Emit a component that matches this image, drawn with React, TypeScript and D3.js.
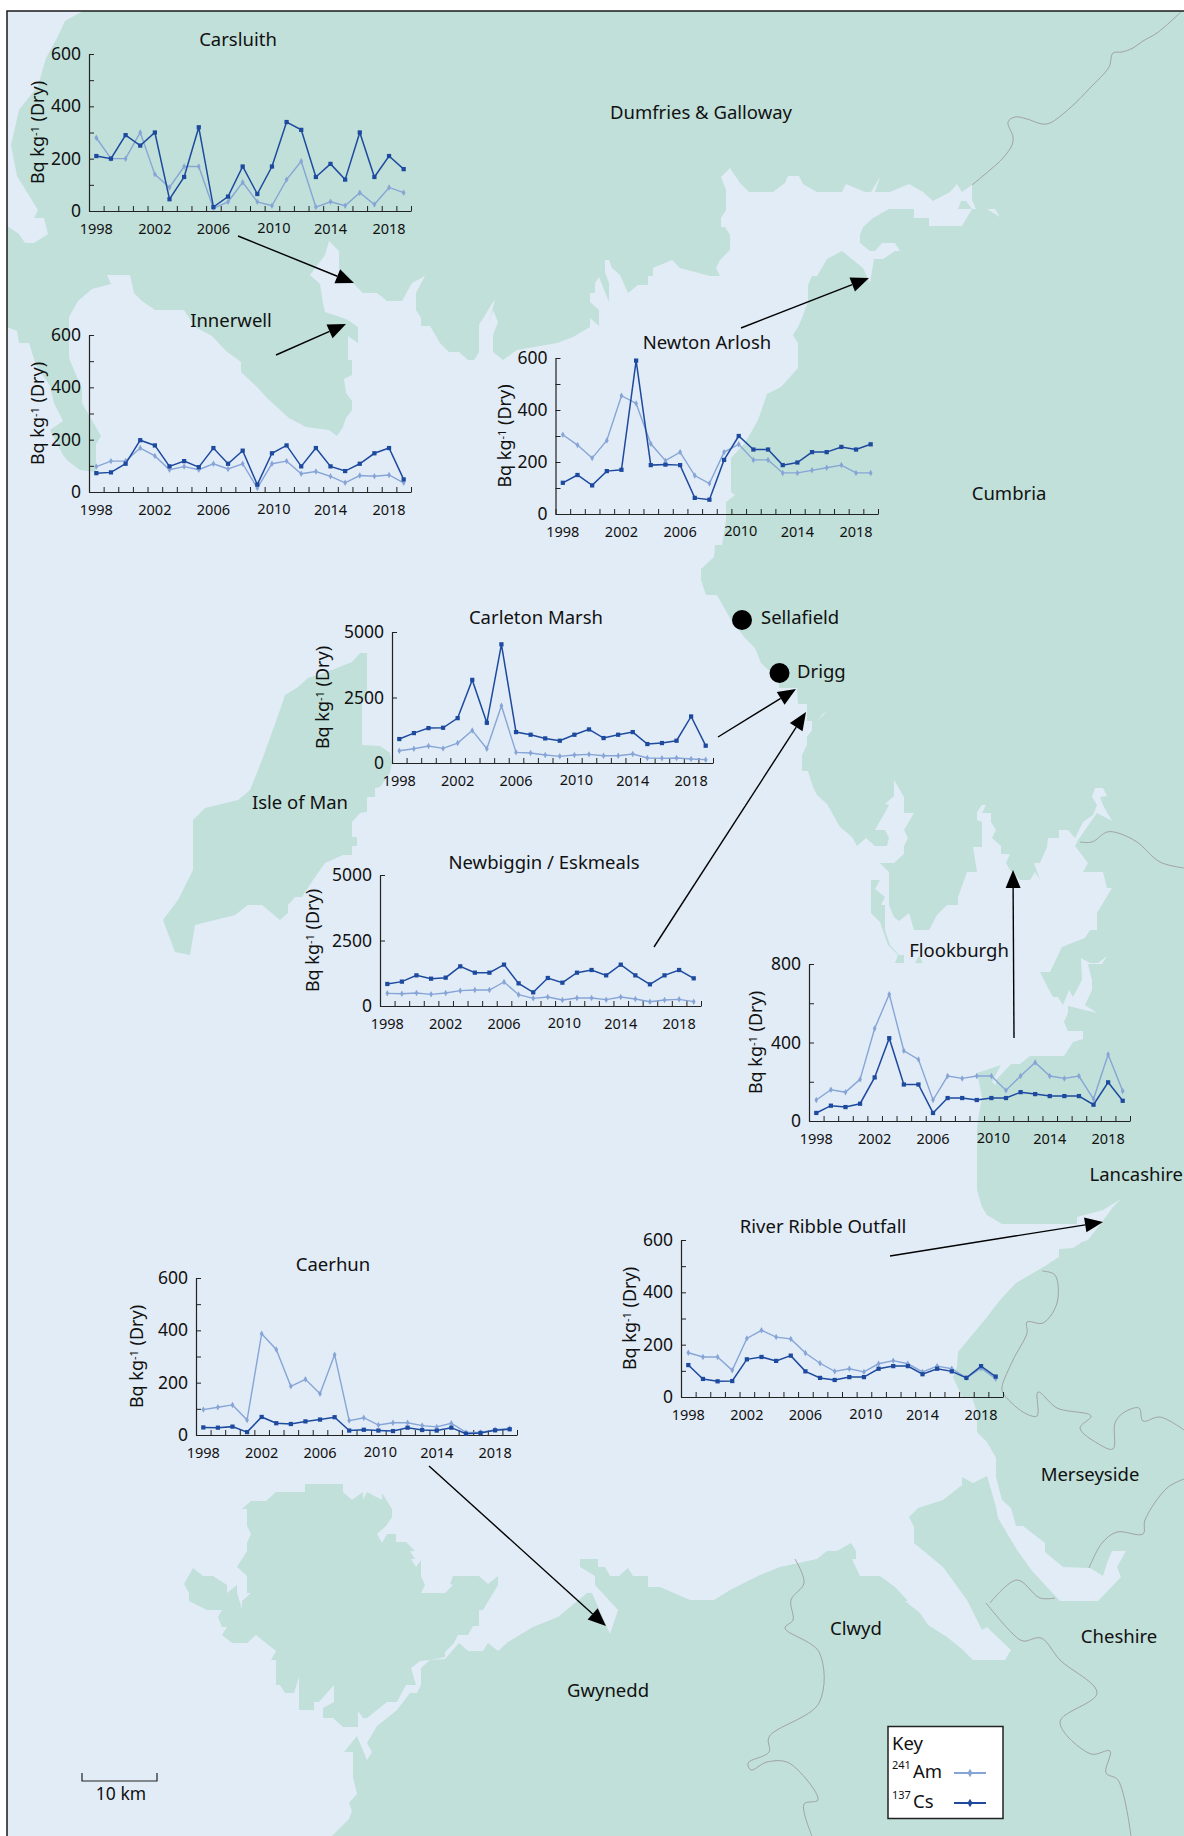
import React, { useEffect, useRef } from 'react';
import * as d3 from 'd3';

type Pt = [number, number];

const WIDTH = 1184;
const HEIGHT = 1836;
const FONT = '"Noto Sans", "Open Sans", sans-serif';
const SEA = '#e2ecf7';
const LAND = '#c0e0d9';
const AM_COLOR = '#86a5d6';
const CS_COLOR = '#1d4a9e';
const LABEL_SIZE = 18.5;

const years = d3.range(1998, 2020);
const labelYears = [1998, 2002, 2006, 2010, 2014, 2018];

// values, Bq/kg dry
const carsluithCs = [210, 200, 290, 250, 300, 45, 130, 320, 15, 55, 170, 65, 170, 340, 310, 130, 180, 120, 300, 130, 210, 160];
const carsluithAm = [280, 200, 200, 300, 140, 90, 170, 170, 10, 35, 110, 35, 20, 120, 190, 15, 35, 20, 70, 25, 90, 70];
const innerwellCs = [72, 75, 108, 198, 178, 98, 118, 95, 168, 108, 158, 28, 148, 178, 98, 168, 98, 80, 108, 148, 168, 48];
const innerwellAm = [97, 118, 118, 168, 138, 85, 97, 85, 108, 88, 108, 15, 108, 118, 70, 78, 60, 35, 63, 60, 65, 35];
const newtonCs = [120, 150, 110, 165, 170, 590, 188, 190, 188, 62, 55, 208, 300, 248, 248, 188, 198, 238, 238, 258, 248, 268];
const newtonAm = [305, 265, 215, 283, 455, 425, 270, 205, 238, 148, 117, 238, 268, 208, 208, 158, 158, 168, 178, 188, 158, 158];
const carletonCs = [914, 1142, 1332, 1345, 1713, 3172, 1535, 4530, 1180, 1079, 939, 850, 1079, 1282, 952, 1079, 1180, 723, 761, 850, 1777, 660];
const carletonAm = [470, 545, 647, 558, 760, 1244, 545, 2183, 406, 380, 305, 254, 305, 330, 279, 279, 343, 190, 178, 190, 152, 127];
const newbigginCs = [840, 930, 1170, 1043, 1081, 1514, 1272, 1272, 1578, 865, 522, 1069, 890, 1272, 1374, 1170, 1578, 1170, 827, 1170, 1374, 1056];
const newbigginAm = [483, 470, 496, 445, 496, 585, 610, 610, 916, 432, 293, 343, 229, 305, 305, 242, 343, 267, 165, 229, 254, 165];
const flookburghCs = [41, 78, 71, 88, 222, 422, 186, 186, 41, 117, 117, 107, 117, 117, 147, 137, 127, 127, 127, 83, 197, 103];
const flookburghAm = [107, 159, 147, 212, 471, 646, 358, 314, 107, 229, 217, 229, 229, 156, 229, 298, 229, 217, 229, 112, 339, 153];
const ribbleCs = [122, 69, 60, 61, 144, 153, 138, 158, 98, 73, 65, 76, 76, 108, 118, 118, 87, 108, 98, 73, 118, 78];
const ribbleAm = [169, 153, 153, 102, 224, 255, 229, 222, 168, 129, 98, 108, 96, 127, 139, 127, 96, 118, 108, 73, 110, 70];
const caerhunCs = [29, 28, 32, 11, 69, 45, 42, 52, 59, 68, 17, 20, 17, 15, 28, 19, 17, 28, 5, 8, 18, 22];
const caerhunAm = [97, 106, 115, 57, 387, 327, 186, 213, 158, 307, 55, 66, 38, 47, 47, 36, 31, 45, 10, 10, 20, 25];

const charts = [
  { title: 'Carsluith', titleX: 238, titleY: 46, cs: carsluithCs, am: carsluithAm, max: 600, minor: 100, major: 200, x0: 89, x1: 411, yTop: 54, yBase: 211, labelGap: 45 },
  { title: 'Innerwell', titleX: 231, titleY: 327, cs: innerwellCs, am: innerwellAm, max: 600, minor: 100, major: 200, x0: 89, x1: 411, yTop: 335, yBase: 492, labelGap: 45 },
  { title: 'Newton Arlosh', titleX: 707, titleY: 349, cs: newtonCs, am: newtonAm, max: 600, minor: 100, major: 200, x0: 555.5, x1: 878, yTop: 358, yBase: 514, labelGap: 45 },
  { title: 'Carleton Marsh', titleX: 536, titleY: 624, cs: carletonCs, am: carletonAm, max: 5000, minor: 2500, major: 2500, x0: 392, x1: 713, yTop: 632, yBase: 763, labelGap: 63 },
  { title: 'Newbiggin / Eskmeals', titleX: 544, titleY: 869, cs: newbigginCs, am: newbigginAm, max: 5000, minor: 2500, major: 2500, x0: 380, x1: 701, yTop: 875, yBase: 1006, labelGap: 61 },
  { title: 'Flookburgh', titleX: 959, titleY: 957, cs: flookburghCs, am: flookburghAm, max: 800, minor: 200, major: 400, x0: 809, x1: 1130, yTop: 964, yBase: 1121, labelGap: 47 },
  { title: 'River Ribble Outfall', titleX: 823, titleY: 1233, cs: ribbleCs, am: ribbleAm, max: 600, minor: 100, major: 200, x0: 681, x1: 1003, yTop: 1240, yBase: 1397, labelGap: 45 },
  { title: 'Caerhun', titleX: 333, titleY: 1271, cs: caerhunCs, am: caerhunAm, max: 600, minor: 100, major: 200, x0: 196, x1: 517, yTop: 1278, yBase: 1435, labelGap: 53 },
];

// coast traced clockwise from the top left round to the Welsh coast
const mainland: Pt[] = [
  [83, 11], [65, 21], [57, 38], [46, 58], [38, 86], [19, 110], [11, 145], [17, 176], [38, 210], [34, 218], [44, 218], [48, 234], [34, 243], [25, 243], [19, 234], [7, 226],
  [7, 327], [17, 331], [19, 343], [29, 343], [36, 365], [50, 386], [54, 403], [63, 421], [50, 430], [63, 455], [68, 461], [80, 470], [96, 472],
  [96, 444], [101, 436], [82, 403], [82, 389], [69, 358], [69, 317], [78, 301], [92, 289], [111, 284], [107, 275], [130, 275], [134, 293], [142, 301], [155, 310], [184, 310],
  [195, 327], [212, 336], [226, 351], [241, 362], [241, 372], [256, 386], [268, 399], [289, 418], [306, 427], [329, 430], [337, 436], [343, 427], [346, 418], [352, 410], [352, 401],
  [346, 393], [344, 379], [352, 375], [352, 360], [348, 360], [348, 336], [358, 343], [358, 327], [346, 319], [325, 312], [323, 303], [320, 284], [310, 275], [325, 255], [329, 241],
  [339, 251], [339, 269], [346, 275], [353, 283], [363, 293], [377, 293], [387, 301], [402, 301], [412, 283], [425, 276], [416, 293], [416, 310], [421, 318], [421, 326], [430, 326],
  [440, 343], [449, 352], [459, 352], [463, 343], [459, 352], [468, 360], [474, 360], [479, 352], [479, 325], [493, 302], [502, 293], [497, 293], [488, 325], [493, 310], [498, 322],
  [493, 335], [493, 352], [503, 360], [517, 350], [557, 343], [573, 337], [590, 327], [590, 318], [599, 326], [599, 310], [590, 302], [590, 293], [595, 293], [595, 283], [599, 277],
  [609, 302], [609, 283], [605, 272], [605, 260], [609, 260], [612, 268], [620, 275], [628, 293], [638, 285], [648, 285], [648, 276], [653, 276], [653, 268], [672, 260], [680, 268],
  [710, 276], [720, 276], [716, 268], [720, 260], [730, 250], [730, 235], [725, 227], [721, 227], [721, 218], [726, 210], [726, 190], [721, 177], [730, 168], [740, 183], [749, 192],
  [773, 192], [785, 183], [788, 176], [799, 176], [803, 184], [817, 192], [842, 192], [846, 184], [865, 192], [871, 192], [880, 177], [875, 192], [890, 192], [909, 184], [923, 192],
  [933, 201], [950, 192], [957, 184], [962, 192], [972, 185], [972, 200], [976, 209], [972, 209], [962, 226], [929, 226], [929, 218], [914, 218], [914, 209], [889, 209], [873, 218],
  [863, 227], [860, 235], [860, 243], [870, 251], [875, 251], [882, 243], [895, 243], [900, 251], [914, 251], [918, 243], [900, 251], [895, 251], [883, 259], [874, 259], [870, 283],
  [863, 268], [842, 251], [827, 259], [817, 276], [812, 276], [808, 285], [808, 302], [802, 318], [798, 327], [793, 335], [798, 343], [798, 368], [781, 387], [767, 394], [758, 420],
  [745, 443], [731, 458], [731, 492], [735, 495], [726, 502], [726, 520], [722, 545], [715, 545], [714, 557], [701, 569], [701, 580], [706, 595], [717, 595], [731, 620], [745, 638],
  [755, 648], [761, 663], [779, 680], [779, 688], [797, 688], [798, 704], [807, 704], [807, 721], [812, 721], [812, 730], [807, 737], [807, 745], [802, 755], [802, 771], [808, 771],
  [813, 787], [817, 795], [827, 804], [840, 827], [852, 837], [857, 846], [866, 838], [875, 846], [887, 846], [889, 838], [885, 830], [875, 830], [889, 805], [885, 804], [894, 796],
  [894, 780], [904, 797], [904, 813], [914, 813], [904, 830], [908, 838], [904, 846], [904, 854], [894, 863], [880, 863], [889, 872], [889, 905], [894, 917], [899, 921], [909, 913],
  [914, 930], [929, 930], [937, 915], [947, 905], [958, 905], [958, 897], [967, 872], [977, 872], [973, 847], [982, 847], [982, 822], [977, 820], [977, 812], [982, 805], [986, 805],
  [982, 813], [991, 813], [991, 822], [996, 830], [992, 838], [1001, 846], [1001, 854], [1010, 854], [1006, 863], [1010, 870], [1020, 880], [1030, 880], [1035, 872], [1040, 880],
  [1034, 863], [1040, 863], [1047, 847], [1048, 838], [1059, 838], [1059, 830], [1068, 830], [1075, 838], [1083, 822], [1093, 815], [1097, 805], [1092, 797], [1095, 788], [1103, 788],
  [1107, 796], [1100, 797], [1103, 805], [1112, 821], [1097, 813], [1085, 830], [1078, 840], [1075, 846], [1088, 863], [1083, 872], [1103, 872], [1107, 888], [1112, 888], [1097, 913],
  [1097, 930], [1090, 930], [1085, 938], [1072, 943], [1062, 947], [1050, 972], [1040, 972], [1048, 988], [1053, 997], [1058, 997], [1063, 1005], [1069, 990], [1073, 997], [1082, 980],
  [1081, 958], [1090, 963], [1098, 963], [1107, 956], [1102, 964], [1088, 964], [1092, 980], [1092, 990], [1085, 1005], [1097, 1013], [1068, 1006], [1068, 1013], [1064, 1022], [1068, 1031],
  [1083, 1031], [1083, 1039], [1073, 1042], [1064, 1056], [1030, 1056], [1020, 1064], [1011, 1064], [996, 1080], [996, 1088], [1001, 1090], [992, 1082], [1001, 1065], [977, 1073],
  [982, 1097], [978, 1120], [977, 1130], [977, 1190], [982, 1207], [987, 1215], [1002, 1224], [1077, 1224], [1077, 1217], [1103, 1210], [1121, 1199], [1113, 1207], [1102, 1222], [1088, 1240],
  [1082, 1242], [1073, 1248], [1059, 1249], [1059, 1257], [1045, 1266], [1016, 1283], [1000, 1300], [987, 1317], [958, 1352], [957, 1367], [953, 1377], [962, 1397], [972, 1397], [977, 1413],
  [977, 1432], [987, 1442], [996, 1458], [996, 1477], [1002, 1500], [1011, 1508], [1016, 1526], [1023, 1526], [1045, 1543], [1045, 1552], [1063, 1567], [1090, 1568], [1103, 1576], [1107, 1563],
  [1112, 1551], [1126, 1551], [1117, 1567], [1121, 1577], [1098, 1601], [1060, 1601], [1033, 1572], [1017, 1550], [998, 1518], [996, 1507], [987, 1476], [973, 1483], [962, 1477], [962, 1485],
  [943, 1500], [918, 1508], [909, 1517], [914, 1527], [914, 1543], [943, 1567], [967, 1600], [982, 1630], [987, 1627], [993, 1633], [1011, 1650], [1005, 1660], [973, 1660], [963, 1650],
  [947, 1637], [928, 1625], [920, 1613], [905, 1601], [908, 1601], [895, 1587], [880, 1576], [860, 1576], [852, 1559], [856, 1559], [856, 1551], [851, 1543], [837, 1551], [827, 1551], [817, 1559],
  [780, 1567], [760, 1575], [730, 1590], [714, 1600], [690, 1600], [660, 1587], [648, 1587], [648, 1576], [633, 1576], [628, 1568], [619, 1576], [610, 1576], [605, 1567], [598, 1567], [598, 1559],
  [580, 1559], [580, 1567], [595, 1576], [595, 1585], [618, 1610], [613, 1625], [610, 1634], [606, 1625], [592, 1593], [587, 1593], [558, 1617], [533, 1627], [508, 1642], [498, 1651], [488, 1643],
  [483, 1651], [468, 1651], [459, 1643], [445, 1659], [430, 1660], [421, 1668], [421, 1685], [417, 1693], [410, 1693], [397, 1710], [377, 1726], [367, 1743], [372, 1752], [367, 1760], [357, 1736],
  [344, 1752], [353, 1752], [353, 1777], [357, 1794], [349, 1803], [352, 1811], [349, 1819], [332, 1836], [1184, 1836], [1184, 11],
];

const anglesey: Pt[] = [
  [305, 1484], [343, 1484], [343, 1492], [352, 1500], [363, 1492], [363, 1500], [367, 1492], [382, 1500], [382, 1493], [392, 1509], [392, 1517], [386, 1526], [377, 1534], [382, 1543], [387, 1534],
  [396, 1534], [396, 1542], [406, 1542], [415, 1551], [410, 1551], [415, 1559], [411, 1559], [416, 1567], [421, 1560], [421, 1576], [425, 1585], [421, 1593], [445, 1593], [453, 1585], [450, 1584],
  [453, 1576], [479, 1576], [488, 1584], [498, 1576], [498, 1585], [483, 1610], [479, 1610], [479, 1626], [473, 1626], [468, 1635], [458, 1635], [454, 1643], [445, 1652], [445, 1657], [430, 1660],
  [420, 1661], [411, 1668], [416, 1685], [406, 1685], [397, 1702], [387, 1702], [367, 1718], [363, 1718], [358, 1711], [358, 1727], [343, 1727], [333, 1718], [323, 1718], [323, 1708], [334, 1702],
  [334, 1685], [319, 1702], [314, 1702], [314, 1710], [299, 1710], [299, 1677], [294, 1693], [285, 1693], [280, 1685], [276, 1685], [276, 1660], [271, 1660], [276, 1651], [256, 1635], [247, 1643],
  [232, 1643], [222, 1635], [227, 1627], [222, 1627], [218, 1617], [222, 1610], [207, 1610], [189, 1601], [189, 1593], [184, 1584], [193, 1568], [203, 1576], [213, 1576], [227, 1585], [227, 1593],
  [237, 1585], [237, 1593], [242, 1609], [242, 1601], [251, 1593], [247, 1593], [247, 1576], [237, 1567], [247, 1551], [247, 1543], [251, 1534], [247, 1526], [247, 1509], [242, 1509], [251, 1501],
  [266, 1501], [276, 1492], [305, 1492],
];

const isleOfMan: Pt[] = [
  [367, 653], [367, 697], [362, 700], [362, 745], [380, 746], [390, 753], [392, 763], [390, 773], [380, 787], [375, 788], [375, 797], [367, 797], [367, 812], [360, 813], [352, 822], [352, 837],
  [357, 837], [357, 846], [352, 846], [352, 855], [343, 855], [325, 863], [313, 880], [302, 897], [295, 897], [288, 905], [288, 913], [280, 920], [262, 905], [248, 905], [235, 915], [195, 925],
  [190, 955], [175, 952], [163, 920], [178, 900], [193, 870], [193, 820], [205, 808], [238, 800], [250, 790], [262, 760], [280, 710], [285, 695], [298, 687], [308, 678], [327, 672], [352, 662], [360, 653],
];

const walneyIsland: Pt[] = [
  [871, 880], [880, 880], [875, 889], [885, 897], [881, 905], [885, 905], [885, 930], [890, 945], [899, 955], [904, 955], [904, 963], [895, 963], [898, 955], [888, 945], [880, 922], [871, 913],
];
const smallLand: Pt[][] = [
  [[915, 963], [923, 963], [919, 956]],
  [[958, 209], [972, 209], [966, 201], [961, 201]],
];
const seaSlivers: Pt[][] = [
  [[817, 721], [823, 714], [827, 712]],
  [[987, 209], [995, 209], [1000, 217]],
];

const boundaries: Pt[][] = [
  [[972, 185], [990, 170], [1003, 158], [1012, 145], [1013, 137], [1008, 122], [1015, 117], [1027, 119], [1042, 124], [1050, 123], [1070, 108], [1090, 88], [1109, 67], [1113, 53], [1122, 52], [1133, 48], [1143, 41], [1157, 33], [1181, 12]],
  [[1080, 842], [1092, 842], [1107, 832], [1118, 833], [1137, 842], [1160, 862], [1184, 868]],
  [[1042, 1271], [1055, 1275], [1057, 1303], [1043, 1323], [1027, 1322], [1027, 1333], [1013, 1360], [1002, 1387], [1003, 1393], [1023, 1412], [1037, 1416], [1038, 1392], [1057, 1408], [1091, 1416], [1080, 1428], [1097, 1443], [1113, 1449], [1115, 1423], [1123, 1413], [1139, 1408], [1143, 1421], [1160, 1417], [1184, 1430]],
  [[1089, 1568], [1102, 1543], [1117, 1532], [1143, 1534], [1145, 1520], [1167, 1488], [1184, 1479]],
  [[1055, 1598], [1040, 1598], [1017, 1580], [990, 1603]],
  [[986, 1603], [1012, 1633], [1023, 1641], [1041, 1638], [1060, 1660], [1097, 1693], [1060, 1722], [1091, 1754], [1110, 1751], [1106, 1773], [1118, 1780], [1131, 1836]],
  [[795, 1559], [804, 1583], [791, 1600], [793, 1620], [785, 1628], [819, 1652], [819, 1703], [769, 1737], [769, 1752], [748, 1763], [751, 1770], [767, 1762], [789, 1763], [818, 1800], [804, 1804], [812, 1836]],
];

// line start, arrow tip
const arrows: [Pt, Pt][] = [
  [[238, 236], [354, 283]],
  [[276, 355], [346, 324]],
  [[741, 328], [869, 278]],
  [[718, 737], [796, 689]],
  [[654, 947], [806, 712]],
  [[1014, 1038], [1013, 870]],
  [[890, 1256], [1103, 1222]],
  [[429, 1466], [606, 1626]],
];

const placeLabels = [
  { text: 'Dumfries & Galloway', x: 701, y: 119, anchor: 'middle' },
  { text: 'Cumbria', x: 1009, y: 500, anchor: 'middle' },
  { text: 'Sellafield', x: 761, y: 624, anchor: 'start' },
  { text: 'Drigg', x: 797, y: 678, anchor: 'start' },
  { text: 'Isle of Man', x: 300, y: 809, anchor: 'middle' },
  { text: 'Lancashire', x: 1183, y: 1181, anchor: 'end' },
  { text: 'Merseyside', x: 1090, y: 1481, anchor: 'middle' },
  { text: 'Clwyd', x: 856, y: 1635, anchor: 'middle' },
  { text: 'Cheshire', x: 1119, y: 1643, anchor: 'middle' },
  { text: 'Gwynedd', x: 608, y: 1697, anchor: 'middle' },
];

const sites: Pt[] = [[742, 620], [779.5, 673]];

const App = () => {
  const svgRef = useRef<SVGSVGElement | null>(null);

  useEffect(() => {
    const svg = d3.select(svgRef.current);
    svg.selectAll('*').remove();
    svg.style('font-family', FONT);

    const outline = d3.line<Pt>().curve(d3.curveLinearClosed);
    const open = d3.line<Pt>().curve(d3.curveLinear);
    const smooth = d3.line<Pt>().curve(d3.curveCatmullRom.alpha(0.5));

    // map
    svg.append('rect').attr('x', 7).attr('y', 11).attr('width', WIDTH - 7).attr('height', HEIGHT - 11).attr('fill', SEA);
    const landShapes = [mainland, anglesey, isleOfMan, walneyIsland, ...smallLand];
    svg.append('g').selectAll('path').data(landShapes).join('path').attr('d', (d) => outline(d)).attr('fill', LAND);
    svg.append('g').selectAll('path').data(seaSlivers).join('path').attr('d', (d) => outline(d)).attr('fill', SEA);
    svg.append('g').selectAll('path').data(boundaries).join('path')
      .attr('d', (d) => smooth(d)).attr('fill', 'none').attr('stroke', '#a3a3a3').attr('stroke-width', 1);

    // frame
    svg.append('path').attr('d', open([[7, HEIGHT], [7, 11], [WIDTH, 11]])).attr('fill', 'none').attr('stroke', '#1a1a1a').attr('stroke-width', 1.5);

    // small charts
    charts.forEach((c) => {
      const g = svg.append('g');
      const band = d3.scaleBand<number>().domain(years).range([c.x0, c.x1]);
      const edges = d3.scaleLinear().domain([0, years.length]).range([c.x0, c.x1]);
      const y = d3.scaleLinear().domain([0, c.max]).range([c.yBase, c.yTop]);
      const xPos = (i: number) => (band(years[i]) as number) + band.bandwidth() / 2;

      const styleAxis = (sel: any) => {
        sel.selectAll('.domain').attr('stroke', '#222').attr('stroke-width', 1.2);
        sel.selectAll('line').attr('stroke', '#222').attr('stroke-width', 1);
      };

      const tickAxis = g.append('g').attr('transform', `translate(0,${c.yBase})`)
        .call(d3.axisBottom(edges).tickValues(d3.range(0, years.length + 1)).tickSize(-5).tickSizeOuter(0).tickFormat(() => ''));
      styleAxis(tickAxis);

      const labelAxis = g.append('g').attr('transform', `translate(0,${c.yBase})`)
        .call(d3.axisBottom(band).tickValues(labelYears).tickSize(0).tickPadding(13).tickFormat((d) => String(d)));
      labelAxis.select('.domain').remove();
      labelAxis.selectAll('text').attr('font-size', 14.5).attr('font-family', FONT).attr('fill', '#111')
        .attr('dx', (d: any) => (d === 2010 ? 2 : 0)).attr('dy', (d: any) => (d === 2010 ? '0.64em' : '0.71em'));

      const yAxis = g.append('g').attr('transform', `translate(${c.x0},0)`)
        .call(d3.axisLeft(y).tickValues(d3.range(0, c.max + 1, c.minor)).tickSizeInner(-5).tickSizeOuter(0).tickPadding(8)
          .tickFormat((d: any) => (d % c.major === 0 ? String(d) : '')));
      styleAxis(yAxis);
      yAxis.selectAll('text').attr('font-size', 17.5).attr('font-family', FONT).attr('fill', '#111');

      const label = g.append('text')
        .attr('transform', `translate(${c.x0 - c.labelGap},${(c.yTop + c.yBase) / 2}) rotate(-90)`)
        .attr('text-anchor', 'middle').attr('font-size', 18).attr('fill', '#111');
      label.append('tspan').text('Bq kg');
      label.append('tspan').attr('dy', -5).attr('font-size', 11).text('-1');
      label.append('tspan').attr('dy', 5).text(' (Dry)');

      g.append('text').attr('x', c.titleX).attr('y', c.titleY).attr('text-anchor', 'middle').attr('font-size', LABEL_SIZE).attr('fill', '#111').text(c.title);

      const series = [
        { values: c.am, color: AM_COLOR, width: 1.4, symbol: d3.symbolDiamond, size: 12 },
        { values: c.cs, color: CS_COLOR, width: 1.5, symbol: d3.symbolSquare, size: 18 },
      ];
      series.forEach((s) => {
        const line = d3.line<number>().x((_, i) => xPos(i)).y((d) => y(d));
        g.append('path').attr('d', line(s.values)).attr('fill', 'none').attr('stroke', s.color).attr('stroke-width', s.width);
        g.append('g').selectAll('path').data(s.values).join('path')
          .attr('transform', (d, i) => `translate(${xPos(i)},${y(d)})`)
          .attr('d', d3.symbol().type(s.symbol).size(s.size)())
          .attr('fill', s.color);
      });
    });

    // arrows pointing at the sampling sites
    const HEAD_LEN = 18;
    const HEAD_W = 15;
    arrows.forEach(([from, tip]) => {
      const a = Math.atan2(tip[1] - from[1], tip[0] - from[0]);
      const bx = tip[0] - HEAD_LEN * Math.cos(a);
      const by = tip[1] - HEAD_LEN * Math.sin(a);
      const nx = -Math.sin(a) * HEAD_W / 2;
      const ny = Math.cos(a) * HEAD_W / 2;
      svg.append('path').attr('d', open([from, [bx, by]])).attr('stroke', '#000').attr('stroke-width', 1.4).attr('fill', 'none');
      svg.append('path').attr('d', outline([tip, [bx + nx, by + ny], [bx - nx, by - ny]])).attr('fill', '#000');
    });

    // place names and site dots
    svg.append('g').selectAll('text').data(placeLabels).join('text')
      .attr('x', (d) => d.x).attr('y', (d) => d.y).attr('text-anchor', (d) => d.anchor)
      .attr('font-size', LABEL_SIZE).attr('fill', '#111').text((d) => d.text);
    svg.append('g').selectAll('circle').data(sites).join('circle')
      .attr('cx', (d) => d[0]).attr('cy', (d) => d[1]).attr('r', 10).attr('fill', '#000');

    // scale bar
    svg.append('path').attr('d', open([[82, 1773], [82, 1781], [157, 1781], [157, 1773]])).attr('fill', 'none').attr('stroke', '#222').attr('stroke-width', 1.2);
    svg.append('text').attr('x', 121).attr('y', 1800).attr('text-anchor', 'middle').attr('font-size', 17.5).attr('fill', '#111').text('10 km');

    // key
    const key = svg.append('g');
    key.append('rect').attr('x', 888).attr('y', 1726.5).attr('width', 115).attr('height', 92).attr('fill', '#fff').attr('stroke', '#222').attr('stroke-width', 1.5);
    key.append('text').attr('x', 892).attr('y', 1750).attr('font-size', LABEL_SIZE).attr('fill', '#111').text('Key');
    const keyRows = [
      { mass: '241', name: 'Am', base: 1778, color: AM_COLOR, symbol: d3.symbolDiamond, size: 22 },
      { mass: '137', name: 'Cs', base: 1808, color: CS_COLOR, symbol: d3.symbolDiamond, size: 22 },
    ];
    keyRows.forEach((r) => {
      key.append('text').attr('x', 892).attr('y', r.base - 9).attr('font-size', 11).attr('fill', '#111').text(r.mass);
      key.append('text').attr('x', 913).attr('y', r.base).attr('font-size', LABEL_SIZE).attr('fill', '#111').text(r.name);
      key.append('path').attr('d', open([[954, r.base - 5], [986, r.base - 5]])).attr('stroke', r.color).attr('stroke-width', 2).attr('fill', 'none');
      key.append('path').attr('transform', `translate(970,${r.base - 5})`).attr('d', d3.symbol().type(r.symbol).size(r.size)()).attr('fill', r.color);
    });
  }, []);

  return (
    <div style={{ position: 'absolute', left: 0, top: 0, width: WIDTH, height: HEIGHT, background: '#fff' }}>
      <svg ref={svgRef} width={WIDTH} height={HEIGHT} style={{ display: 'block' }} />
    </div>
  );
};

export default App;
